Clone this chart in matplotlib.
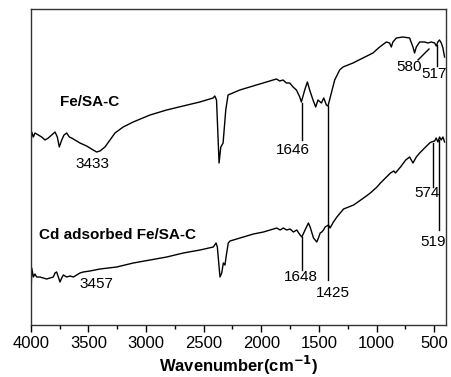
import matplotlib
matplotlib.use("Agg")
import matplotlib.pyplot as plt
from matplotlib.ticker import MultipleLocator

plt.rcParams['font.family'] = ['Liberation Sans', 'DejaVu Sans']

# FTIR spectra (arbitrary transmittance units, curves offset)
wn_fe = [3998, 3995, 3991, 3977, 3963, 3934, 3905, 3876, 3847, 3818, 3789, 3769,
         3752, 3731, 3711, 3688, 3665, 3645, 3616, 3573, 3515, 3458, 3428, 3399,
         3356, 3312, 3269, 3198, 3111, 2965, 2821, 2678, 2533, 2418, 2403, 2388,
         2374, 2366, 2351, 2331, 2308, 2288, 2186, 2071, 1984, 1926, 1898, 1868,
         1840, 1811, 1782, 1753, 1724, 1695, 1666, 1652, 1623, 1600, 1580, 1551,
         1528, 1508, 1478, 1458, 1435, 1421, 1392, 1363, 1320, 1291, 1204, 1118,
         1031, 973, 915, 887, 872, 858, 828, 771, 713, 684, 670, 655, 626, 583,
         554, 525, 496, 482, 468, 454, 438, 424, 410]
t_fe = [220, 185, 193, 188, 192, 190, 188, 185, 187, 190, 193, 188,
        178, 185, 190, 192, 188, 187, 185, 182, 179, 175, 173, 174,
        178, 185, 192, 198, 203, 210, 215, 219, 223, 227, 229, 225,
        185, 162, 178, 182, 215, 230, 235, 239, 242, 244, 245, 246,
        244, 245, 242, 242, 238, 235, 228, 223, 235, 243, 235, 225,
        218, 225, 222, 227, 220, 219, 232, 245, 255, 258, 262, 267,
        272, 278, 283, 282, 278, 283, 287, 288, 287, 278, 272, 278, 283, 283,
        282, 283, 282, 279, 283, 285, 282, 277, 268]

wn_cd = [3998, 3995, 3991, 3977, 3963, 3948, 3920, 3891, 3862, 3833, 3804, 3789,
         3775, 3760, 3746, 3731, 3717, 3688, 3659, 3630, 3601, 3573, 3544, 3486,
         3399, 3254, 3110, 2965, 2820, 2676, 2531, 2416, 2392, 2381, 2358, 2343,
         2329, 2315, 2300, 2286, 2271, 2184, 2068, 1981, 1923, 1894, 1866, 1836,
         1808, 1779, 1750, 1721, 1692, 1663, 1648, 1620, 1591, 1576, 1547, 1518,
         1504, 1489, 1475, 1460, 1446, 1417, 1403, 1374, 1344, 1286, 1199, 1112,
         1054, 996, 966, 879, 850, 836, 792, 747, 713, 684, 655, 626, 583, 539,
         525, 496, 482, 468, 453, 439, 424, 410]
t_cd = [115, 39, 57, 48, 51, 48, 48, 47, 46, 47, 48, 52,
        53, 48, 43, 47, 50, 48, 49, 48, 50, 52, 53, 54,
        56, 58, 62, 65, 68, 72, 75, 78, 82, 78, 48, 52,
        62, 60, 72, 82, 84, 87, 91, 93, 95, 96, 97, 95,
        97, 95, 96, 93, 95, 90, 88, 95, 102, 98, 87, 83,
        87, 92, 93, 95, 98, 100, 97, 103, 108, 116, 120, 127,
        132, 138, 142, 152, 154, 152, 158, 165, 168, 162, 168, 172, 177, 182,
        183, 184, 187, 183, 188, 185, 188, 183]

# peak labels: (text, x, y) and marker lines (x0, y0, x1, y1)
peak_text = [('3433', 3467, 161), ('1646', 1727, 175), ('1425', 1382, 32),
             ('580', 718, 258), ('517', 502, 251),
             ('3457', 3434, 41), ('1648', 1657, 48), ('574', 565, 132), ('519', 510, 83)]
peak_lines = [(1649, 222, 1649, 185), (1418, 219, 1418, 45), (640, 265, 545, 276),
              (473, 280, 473, 259), (1649, 88, 1649, 55), (507, 182, 507, 138),
              (455, 185, 455, 95)]

fig = plt.figure(figsize=(4.51, 3.77), dpi=100)
ax = fig.add_axes([30.7 / 451, 52 / 377, 415 / 451, 316 / 377])

ax.plot(wn_fe, t_fe, color='black', linewidth=1)
ax.plot(wn_cd, t_cd, color='black', linewidth=1)

for x0, y0, x1, y1 in peak_lines:
    ax.plot([x0, x1], [y0, y1], color='black', linewidth=1)
for s, x, y in peak_text:
    ax.text(x, y, s, ha='center', va='center', fontsize=11)

ax.text(3746, 223, 'Fe/SA-C', ha='left', va='center', fontsize=11, fontweight='bold')
ax.text(3925, 90, 'Cd adsorbed Fe/SA-C', ha='left', va='center', fontsize=11,
        fontweight='bold')

ax.set_xlim(4000, 400)
ax.set_ylim(0, 316)
ax.set_yticks([])
ax.xaxis.set_major_locator(MultipleLocator(500))
ax.xaxis.set_minor_locator(MultipleLocator(250))
ax.tick_params(axis='x', which='major', direction='out', length=5, width=1,
               labelsize=12, pad=3)
ax.tick_params(axis='x', which='minor', direction='out', length=3, width=1)
for sp in ax.spines.values():
    sp.set_linewidth(1)
    sp.set_color('#333333')

ax.set_xlabel(r'Wavenumber(cm$^{\mathbf{-1}}$)', fontsize=12, fontweight='bold',
              labelpad=2)

fig.savefig('out.png', dpi=100)
